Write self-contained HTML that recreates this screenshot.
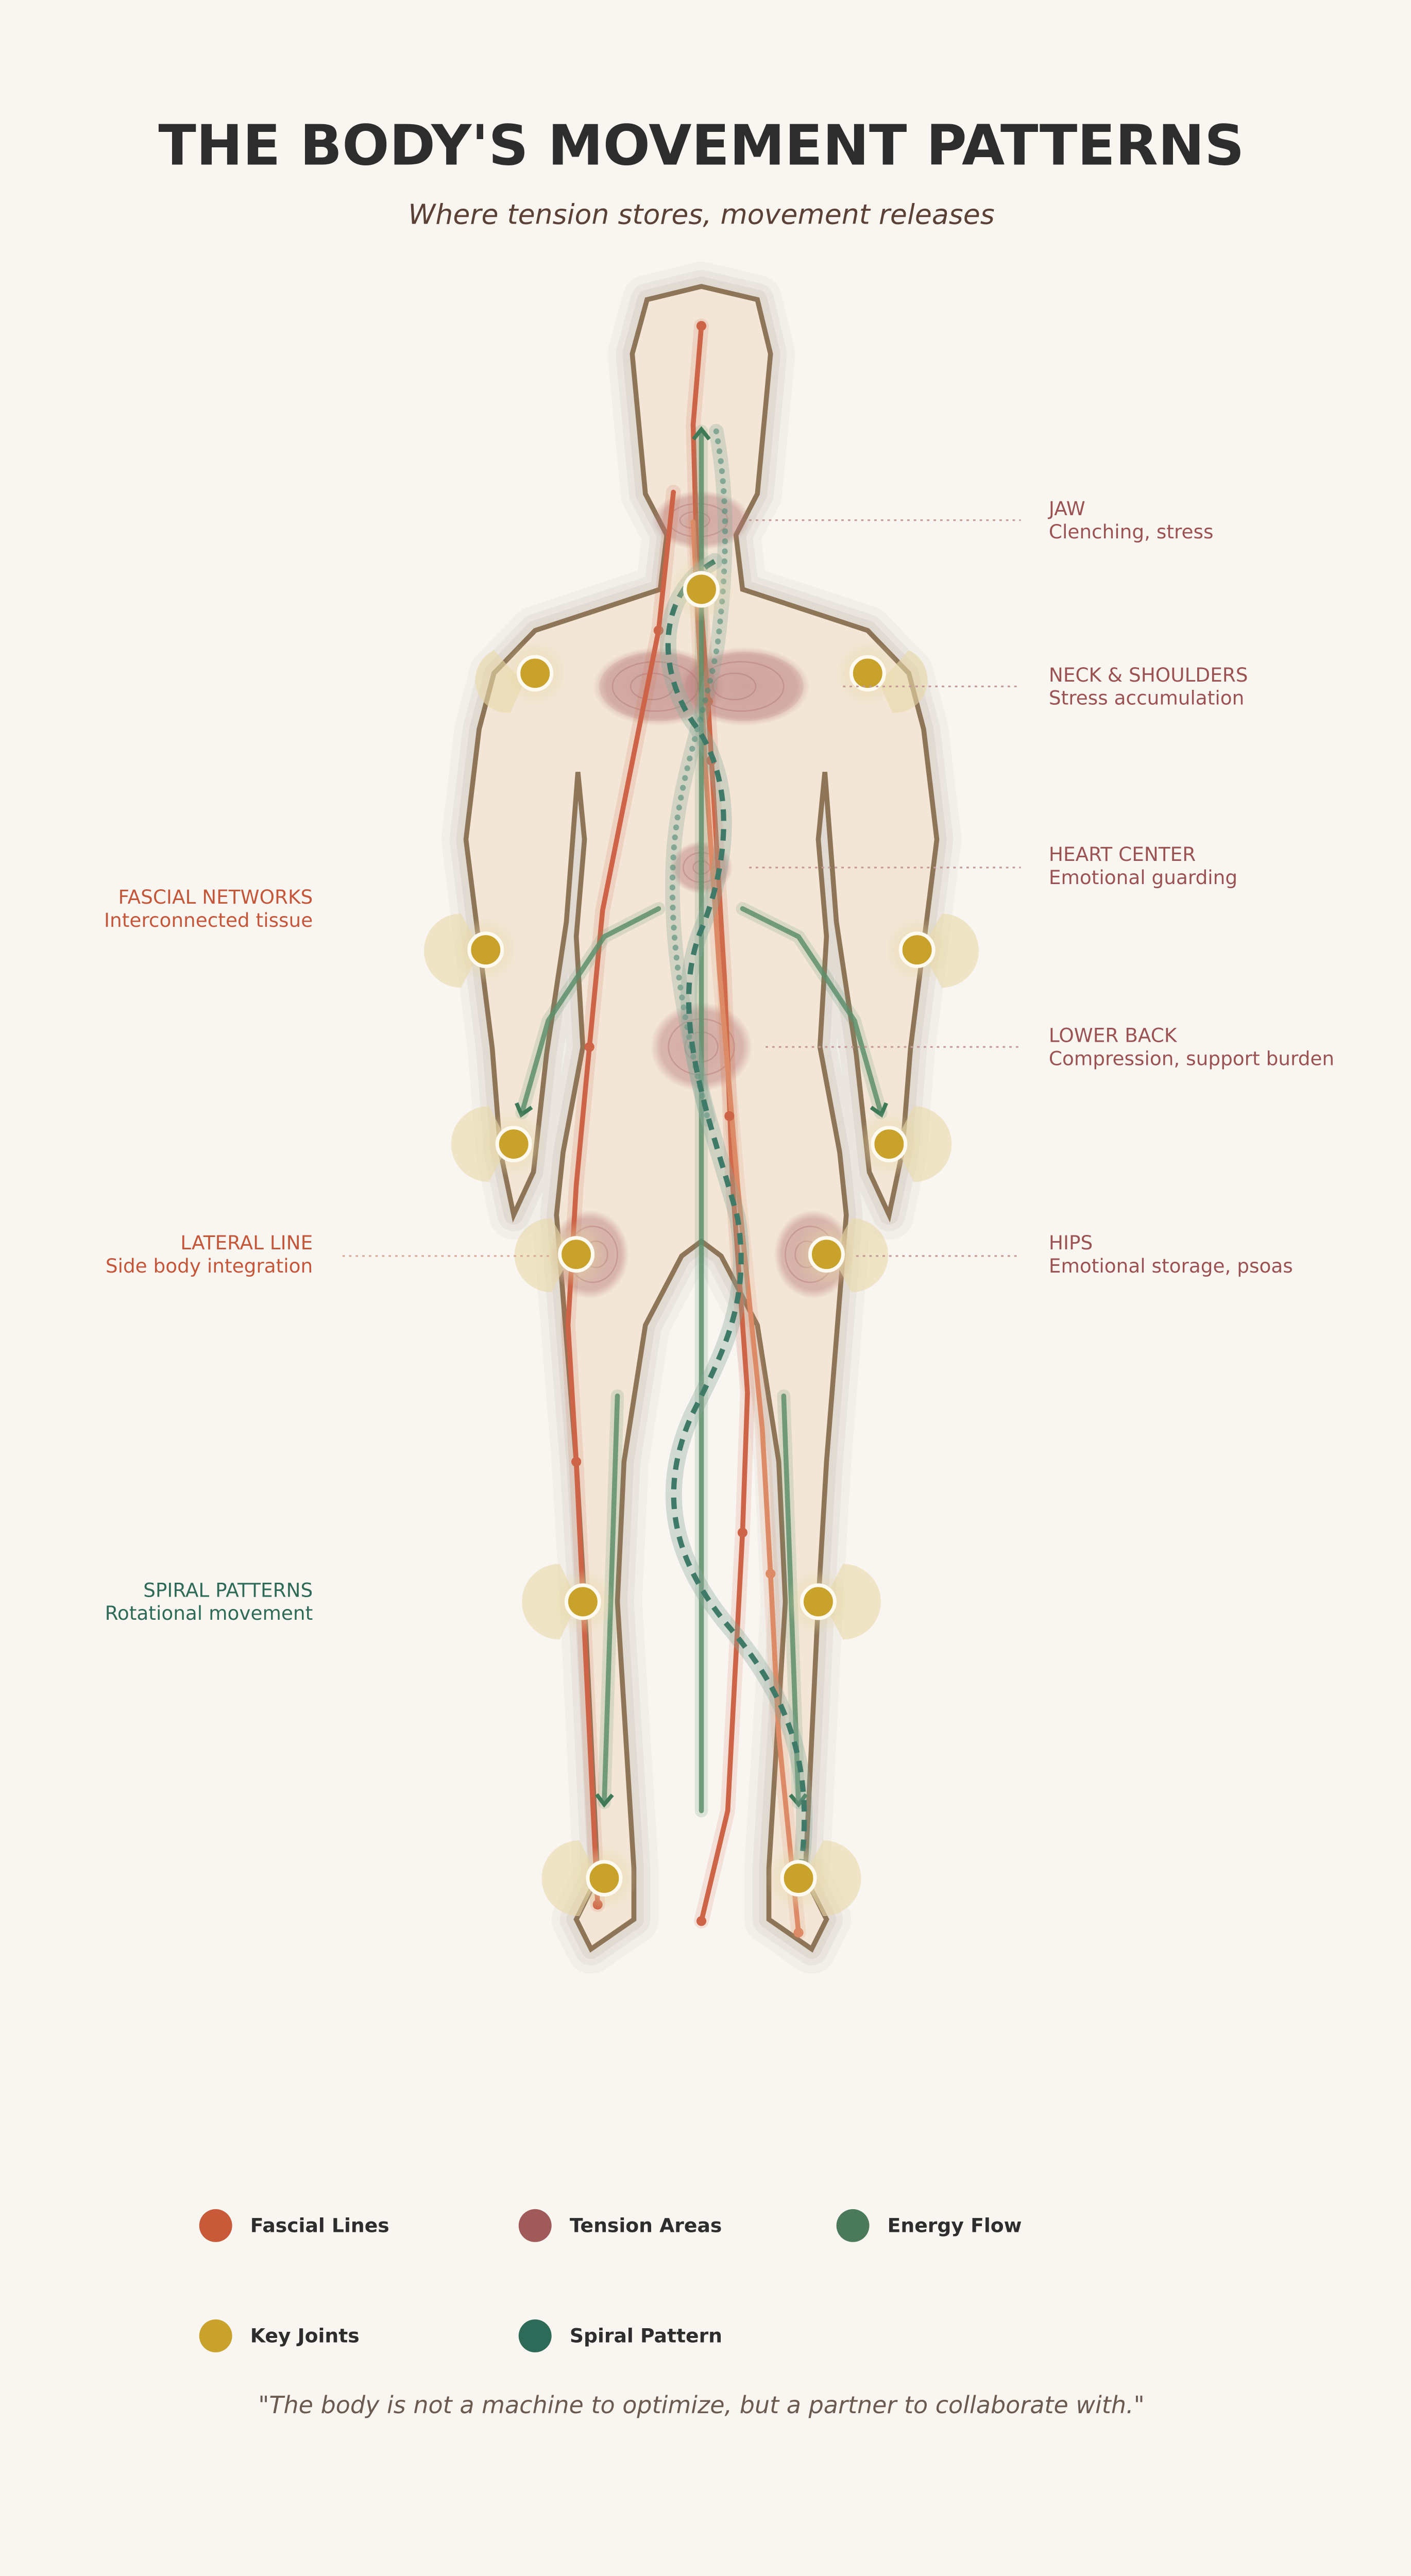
<!DOCTYPE html>
<html><head><meta charset="utf-8"><style>
html,body{margin:0;padding:0;background:#f9f6f1;width:2739px;height:5010px;overflow:hidden;}
svg{display:block}
text{font-family:"DejaVu Sans","Liberation Sans",sans-serif}
</style></head><body>
<svg width="2739" height="5010" viewBox="0 0 857 1568" preserveAspectRatio="none" xmlns="http://www.w3.org/2000/svg">
<defs>
<radialGradient id="tg"><stop offset="0" stop-color="#b87a7a" stop-opacity="0.55"/><stop offset="0.8" stop-color="#b87a7a" stop-opacity="0.45"/><stop offset="1" stop-color="#b87a7a" stop-opacity="0"/></radialGradient>
<radialGradient id="hg"><stop offset="0" stop-color="#e8d9a8" stop-opacity="0.9"/><stop offset="1" stop-color="#e8d9a8" stop-opacity="0"/></radialGradient>
<marker id="ar" viewBox="0 0 10 10" refX="5" refY="5" markerWidth="4" markerHeight="4" orient="auto-start-reverse"><path d="M1,1 L6,5 L1,9" fill="none" stroke="#3f7a58" stroke-width="2"/></marker>
</defs>
<rect width="857" height="1568" fill="#f9f6f1"/>
<text x="426" y="100" text-anchor="middle" font-size="33.7" font-weight="bold" fill="#2d2d2d">THE BODY'S MOVEMENT PATTERNS</text>
<text x="426" y="136" text-anchor="middle" font-size="16.8" font-style="italic" fill="#5a4035">Where tension stores, movement releases</text>

<g id="body">
<path id="bp" d="M393,182 L426,174 L460,182 L468,215 L460,300 L447,325 L451,358 L527,383 L552,409 L561,443 L569,510 L553,637 L548,700 L540,738 L528,712 L520,640 L508,560 L501,469 L497,510 L502,569 L498,636 L510,700 L514,738 L502,888 L497,973 L489,1140 L502,1166 L493,1184 L467,1166 L467,1135 L477,973 L473,888 L460,805 L438,763 L426,754 L414,763 L392,805 L379,888 L375,973 L385,1135 L385,1166 L359,1184 L350,1166 L363,1140 L355,973 L350,888 L338,738 L342,700 L354,636 L350,569 L355,510 L351,469 L344,560 L332,640 L324,712 L312,738 L304,700 L299,637 L283,510 L291,443 L300,409 L325,383 L401,358 L405,325 L392,300 L384,215 Z"/>
</g>
<use href="#bp" fill="none" stroke="#8a7f70" stroke-opacity="0.06" stroke-width="30" stroke-linejoin="round"/>
<use href="#bp" fill="none" stroke="#8a7f70" stroke-opacity="0.08" stroke-width="20" stroke-linejoin="round"/>
<use href="#bp" fill="none" stroke="#8a7f70" stroke-opacity="0.1" stroke-width="12" stroke-linejoin="round"/>
<use href="#bp" fill="#f3e6d6" stroke="#8e7557" stroke-width="3" stroke-linejoin="miter"/>

<g>
<ellipse cx="426" cy="316" rx="30" ry="18" fill="url(#tg)"/>
<ellipse cx="400" cy="417" rx="40" ry="24" fill="url(#tg)"/>
<ellipse cx="452" cy="417" rx="40" ry="24" fill="url(#tg)"/>
<ellipse cx="400" cy="417" rx="36" ry="21" fill="#b87a7a" fill-opacity="0.15"/>
<ellipse cx="452" cy="417" rx="36" ry="21" fill="#b87a7a" fill-opacity="0.15"/>
<ellipse cx="426" cy="527" rx="19" ry="16" fill="url(#tg)"/>
<ellipse cx="426" cy="636" rx="31" ry="27" fill="url(#tg)"/>
<ellipse cx="358" cy="762" rx="24" ry="27" fill="url(#tg)"/>
<ellipse cx="494" cy="762" rx="24" ry="27" fill="url(#tg)"/>
<g fill="none" stroke="#a86868" stroke-opacity="0.35" stroke-width="0.8">
<ellipse cx="424" cy="316" rx="18" ry="10"/><ellipse cx="422" cy="316" rx="9" ry="5"/>
<ellipse cx="398" cy="417" rx="26" ry="15"/><ellipse cx="396" cy="417" rx="13" ry="8"/>
<ellipse cx="450" cy="417" rx="26" ry="15"/><ellipse cx="446" cy="417" rx="13" ry="8"/>
<ellipse cx="426" cy="527" rx="11" ry="9"/><ellipse cx="426" cy="527" rx="5" ry="4"/>
<ellipse cx="426" cy="636" rx="20" ry="17"/><ellipse cx="426" cy="636" rx="10" ry="9"/>
<ellipse cx="360" cy="762" rx="15" ry="17"/><ellipse cx="362" cy="762" rx="7" ry="8"/>
<ellipse cx="492" cy="762" rx="15" ry="17"/><ellipse cx="490" cy="762" rx="7" ry="8"/>
</g>
</g>

<g fill="none" stroke-linecap="round" stroke-linejoin="round">
<polyline points="426,198 421,258 423,330 430,426 440,594 445,720 454,846 451,931 442,1100 426,1167" stroke="#cd6447" stroke-opacity="0.15" stroke-width="9"/>
<polyline points="426,198 421,258 423,330 430,426 440,594 445,720 454,846 451,931 442,1100 426,1167" stroke="#cd6447" stroke-width="3"/>
<polyline points="421,317 428,460 437,590 448,720 463,868 468,956 473,1054 485,1174" stroke="#dd8a66" stroke-opacity="0.15" stroke-width="9"/>
<polyline points="421,317 428,460 437,590 448,720 463,868 468,956 473,1054 485,1174" stroke="#dd8a66" stroke-width="3"/>
<polyline points="409,299 400,383 366,553 358,636 350,720 345,805 350,888 363,1157" stroke="#cd6447" stroke-opacity="0.15" stroke-width="9"/>
<polyline points="409,299 400,383 366,553 358,636 350,720 345,805 350,888 363,1157" stroke="#cd6447" stroke-width="3"/>
</g>
<g fill="#cd6447">
<circle cx="426" cy="198" r="3"/><circle cx="430" cy="426" r="3"/><circle cx="443" cy="678" r="3"/><circle cx="451" cy="931" r="3"/><circle cx="426" cy="1167" r="3"/>
<circle cx="400" cy="383" r="3"/><circle cx="358" cy="636" r="3"/><circle cx="350" cy="888" r="3"/><circle cx="363" cy="1157" r="3"/>
<circle cx="468" cy="956" r="3" fill="#dd8a66"/><circle cx="485" cy="1174" r="3" fill="#dd8a66"/><circle cx="432" cy="462" r="3"/>
</g>

<g fill="none" stroke-linecap="round" stroke-linejoin="round">
<g stroke="#6a9a78" stroke-opacity="0.2" stroke-width="8">
<line x1="426" y1="262" x2="426" y2="1100"/>
<polyline points="400,552 367,569 333,620 317,676"/><polyline points="451,552 485,569 519,620 535,676"/>
<line x1="375" y1="848" x2="367" y2="1095"/><line x1="476" y1="848" x2="485" y2="1095"/>
</g>
<g stroke="#5e8f6c" stroke-opacity="0.85" stroke-width="3">
<line x1="426" y1="1100" x2="426" y2="262" marker-end="url(#ar)"/>
<polyline points="400,552 367,569 333,620 317,676" marker-end="url(#ar)"/>
<polyline points="451,552 485,569 519,620 535,676" marker-end="url(#ar)"/>
<line x1="375" y1="848" x2="367" y2="1095" marker-end="url(#ar)"/>
<line x1="476" y1="848" x2="485" y2="1095" marker-end="url(#ar)"/>
</g>
</g>

<g fill="none" stroke-linecap="round">
<path d="M435,262 C442,300 442,340 436,390 C430,430 412,470 409,520 C406,570 415,620 430,680" stroke="#8aaa9c" stroke-opacity="0.3" stroke-width="9"/>
<path d="M435,262 C442,300 442,340 436,390 C430,430 412,470 409,520 C406,570 415,620 430,680" stroke="#4f8a76" stroke-opacity="0.6" stroke-width="3.5" stroke-dasharray="0.1 6"/>
<path d="M434,341 C400,360 398,405 421,439 C445,470 445,520 425,567 C405,620 435,690 448,740 C456,790 440,820 420,860 C398,910 412,950 440,985 C470,1020 495,1060 487,1130" stroke="#8aaa9c" stroke-opacity="0.35" stroke-width="10"/>
<path d="M434,341 C400,360 398,405 421,439 C445,470 445,520 425,567 C405,620 435,690 448,740 C456,790 440,820 420,860 C398,910 412,950 440,985 C470,1020 495,1060 487,1130" stroke="#3f7a68" stroke-width="3.2" stroke-dasharray="7 5" stroke-linecap="butt"/>
</g>

<g>
<g fill="#e8d9a8" fill-opacity="0.6">
<path d="M300,395 A20,20 0 0,0 310,433 L318,415 Z"/><path d="M552,395 A20,20 0 0,1 542,433 L534,415 Z"/>
<path d="M280,555 A22,22 0 0,0 280,600 L292,577 Z"/><path d="M572,555 A22,22 0 0,1 572,600 L560,577 Z"/>
<path d="M297,672 A22,22 0 0,0 297,718 L309,695 Z"/><path d="M555,672 A22,22 0 0,1 555,718 L543,695 Z"/>
<path d="M335,740 A22,22 0 0,0 335,785 L347,762 Z"/><path d="M517,740 A22,22 0 0,1 517,785 L505,762 Z"/>
<path d="M340,950 A22,22 0 0,0 340,996 L351,973 Z"/><path d="M512,950 A22,22 0 0,1 512,996 L500,973 Z"/>
<path d="M352,1118 A22,22 0 0,0 352,1164 L363,1141 Z"/><path d="M500,1118 A22,22 0 0,1 500,1164 L488,1141 Z"/>
</g>
<g fill="url(#hg)">
<circle cx="426" cy="358" r="20"/><circle cx="325" cy="409" r="20"/><circle cx="527" cy="409" r="20"/><circle cx="295" cy="577" r="20"/><circle cx="557" cy="577" r="20"/><circle cx="312" cy="695" r="20"/><circle cx="540" cy="695" r="20"/><circle cx="350" cy="762" r="20"/><circle cx="502" cy="762" r="20"/><circle cx="354" cy="973" r="20"/><circle cx="497" cy="973" r="20"/><circle cx="367" cy="1141" r="20"/><circle cx="485" cy="1141" r="20"/>
</g>
<g fill="#c9a22c" stroke="#fffaf0" stroke-width="2.2">
<circle cx="426" cy="358" r="10"/><circle cx="325" cy="409" r="10"/><circle cx="527" cy="409" r="10"/><circle cx="295" cy="577" r="10"/><circle cx="557" cy="577" r="10"/><circle cx="312" cy="695" r="10"/><circle cx="540" cy="695" r="10"/><circle cx="350" cy="762" r="10"/><circle cx="502" cy="762" r="10"/><circle cx="354" cy="973" r="10"/><circle cx="497" cy="973" r="10"/><circle cx="367" cy="1141" r="10"/><circle cx="485" cy="1141" r="10"/>
</g>
</g>

<g stroke="#c49a96" stroke-width="1" stroke-dasharray="1.5 2.5" fill="none">
<line x1="455" y1="316" x2="620" y2="316"/><line x1="512" y1="417" x2="620" y2="417"/><line x1="455" y1="527" x2="620" y2="527"/><line x1="465" y1="636" x2="620" y2="636"/><line x1="520" y1="763" x2="620" y2="763"/>
<line x1="208" y1="763" x2="335" y2="763" stroke="#d8aa98"/>
</g>

<g font-size="11.7" fill="#9a5252">
<text x="637" y="313">JAW</text><text x="637" y="327">Clenching, stress</text>
<text x="637" y="414">NECK &amp; SHOULDERS</text><text x="637" y="428">Stress accumulation</text>
<text x="637" y="523">HEART CENTER</text><text x="637" y="537">Emotional guarding</text>
<text x="637" y="633">LOWER BACK</text><text x="637" y="647">Compression, support burden</text>
<text x="637" y="759">HIPS</text><text x="637" y="773">Emotional storage, psoas</text>
</g>
<g font-size="11.7" text-anchor="end">
<text x="190" y="549" fill="#c4563a">FASCIAL NETWORKS</text><text x="190" y="563" fill="#c4563a">Interconnected tissue</text>
<text x="190" y="759" fill="#c4563a">LATERAL LINE</text><text x="190" y="773" fill="#c4563a">Side body integration</text>
<text x="190" y="970" fill="#2e6a58">SPIRAL PATTERNS</text><text x="190" y="984" fill="#2e6a58">Rotational movement</text>
</g>

<g font-size="11.8" font-weight="bold" fill="#2d2d2d">
<circle cx="131" cy="1352" r="10" fill="#c85a3a"/><text x="152" y="1356">Fascial Lines</text>
<circle cx="325" cy="1352" r="10" fill="#a05a5a"/><text x="346" y="1356">Tension Areas</text>
<circle cx="518" cy="1352" r="10" fill="#4a7a5a"/><text x="539" y="1356">Energy Flow</text>
<circle cx="131" cy="1419" r="10" fill="#c9a22c"/><text x="152" y="1423">Key Joints</text>
<circle cx="325" cy="1419" r="10" fill="#2d6a58"/><text x="346" y="1423">Spiral Pattern</text>
</g>
<text x="426" y="1466" text-anchor="middle" font-size="14.4" font-style="italic" fill="#6b5a50">"The body is not a machine to optimize, but a partner to collaborate with."</text>
</svg>
</body></html>
